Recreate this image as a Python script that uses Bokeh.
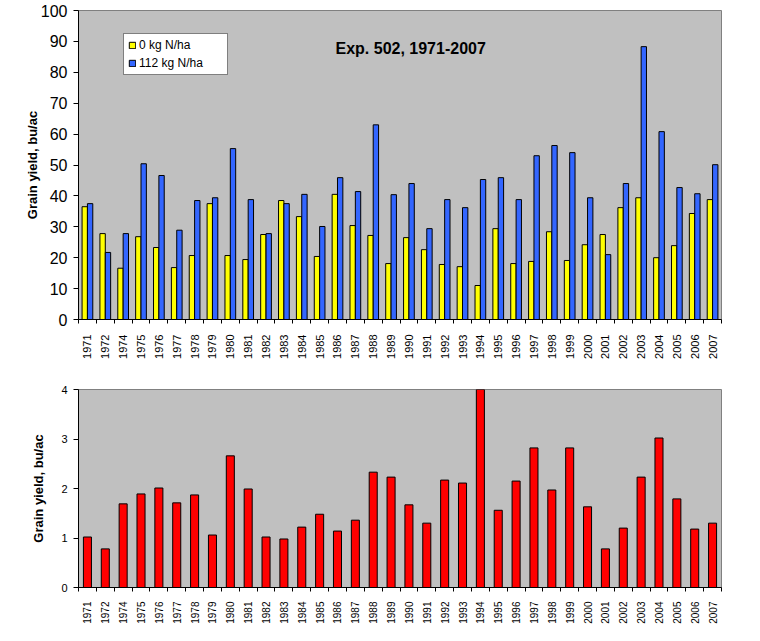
import math

from bokeh.embed import file_html
from bokeh.layouts import column
from bokeh.models import (ColumnDataSource, FixedTicker, Label, Legend,
                          LegendItem, Range1d)
from bokeh.plotting import figure
from bokeh.resources import INLINE
from bokeh.transform import dodge

# Exp. 502 winter wheat grain yields (bu/ac), no N vs 112 kg N/ha
years = ["1971", "1972", "1974", "1975", "1976", "1977", "1978", "1979",
         "1980", "1981", "1982", "1983", "1984", "1985", "1986", "1987",
         "1988", "1989", "1990", "1991", "1992", "1993", "1994", "1995",
         "1996", "1997", "1998", "1999", "2000", "2001", "2002", "2003",
         "2004", "2005", "2006", "2007"]

yield_0n = [36.5, 27.8, 16.6, 26.8, 23.3, 16.8, 20.7, 37.5,
            20.7, 19.4, 27.5, 38.5, 33.3, 20.4, 40.5, 30.4,
            27.2, 18.1, 26.5, 22.6, 17.8, 17.1, 11.0, 29.4,
            18.1, 18.8, 28.4, 19.1, 24.2, 27.5, 36.2, 39.4,
            20.0, 23.9, 34.3, 38.8]

yield_112n = [37.5, 21.7, 27.8, 50.4, 46.6, 28.9, 38.5, 39.4,
              55.3, 38.8, 27.8, 37.5, 40.5, 30.1, 45.9, 41.4,
              63.0, 40.4, 44.0, 29.4, 38.8, 36.2, 45.3, 45.9,
              38.8, 53.0, 56.3, 54.0, 39.4, 21.0, 44.0, 88.3,
              60.8, 42.7, 40.7, 50.1]

# response to N (112 kg N/ha yield over check yield)
ratio = [1.02, 0.78, 1.69, 1.89, 2.01, 1.71, 1.87, 1.06,
         2.66, 1.99, 1.02, 0.98, 1.22, 1.48, 1.14, 1.36,
         2.33, 2.23, 1.67, 1.30, 2.17, 2.11, 4.12, 1.56,
         2.15, 2.82, 1.97, 2.82, 1.63, 0.78, 1.20, 2.23,
         3.02, 1.79, 1.18, 1.30]

series_labels = ["0 kg N/ha", "112 kg N/ha"]
top_ticks = list(range(0, 101, 10))
bottom_ticks = [0, 1, 2, 3, 4]

FONT = "Liberation Sans"
PLOT_BG = "#C0C0C0"
FRAME_LINE = "#808080"

n = len(years)
idx = list(range(n))
source = ColumnDataSource(dict(idx=idx, year=years, n0=yield_0n,
                               n112=yield_112n, ratio=ratio))


def style_axes(p, y_ticks, y_font, x_font, x_standoff, title_standoff):
    p.background_fill_color = PLOT_BG
    p.border_fill_color = "white"
    p.outline_line_color = FRAME_LINE
    p.outline_line_width = 1
    p.grid.visible = False

    xa = p.xaxis[0]
    xa.ticker = FixedTicker(ticks=idx, minor_ticks=[i - 0.5 for i in range(n + 1)])
    xa.major_label_overrides = {i: y for i, y in enumerate(years)}
    xa.major_tick_line_color = None
    xa.major_tick_out = 0
    xa.major_tick_in = 0
    xa.minor_tick_line_color = "black"
    xa.minor_tick_out = 4
    xa.minor_tick_in = 0
    xa.axis_line_color = "black"
    xa.major_label_orientation = math.pi / 2
    xa.major_label_text_font = FONT
    xa.major_label_text_font_size = x_font
    xa.major_label_text_color = "black"
    xa.major_label_standoff = x_standoff

    ya = p.yaxis[0]
    ya.ticker = FixedTicker(ticks=y_ticks)
    ya.minor_tick_line_color = None
    ya.major_tick_out = 5
    ya.major_tick_in = 0
    ya.major_tick_line_color = "black"
    ya.axis_line_color = "black"
    ya.major_label_text_font = FONT
    ya.major_label_text_font_size = y_font
    ya.major_label_text_color = "black"
    ya.major_label_standoff = 6
    ya.axis_label = "Grain yield, bu/ac"
    ya.axis_label_text_font = FONT
    ya.axis_label_text_font_style = "bold"
    ya.axis_label_text_font_size = "13px"
    ya.axis_label_text_color = "black"
    ya.axis_label_standoff = title_standoff


# --- yields by N rate ---
top = figure(width=760, height=370, output_backend="svg", toolbar_location=None,
             x_range=Range1d(-0.5, n - 0.5), y_range=Range1d(0, 100),
             min_border_left=76, min_border_right=39,
             min_border_top=10, min_border_bottom=51)
style_axes(top, top_ticks, "16px", "11px", 11, -2)

r0 = top.vbar(x=dodge("idx", -0.15), top="n0", width=0.3, source=source,
              fill_color="#FFFF00", line_color="black", line_width=1)
r112 = top.vbar(x=dodge("idx", 0.15), top="n112", width=0.3, source=source,
                fill_color="#3366FF", line_color="black", line_width=1)

legend = Legend(items=[LegendItem(label=series_labels[0], renderers=[r0]),
                       LegendItem(label=series_labels[1], renderers=[r112])],
                location=(45, 244))
legend.border_line_color = "black"
legend.border_line_width = 1
legend.background_fill_color = "white"
legend.background_fill_alpha = 1
legend.label_text_font = FONT
legend.label_text_font_size = "12px"
legend.label_text_color = "black"
legend.glyph_width = 8
legend.glyph_height = 8
legend.label_height = 14
legend.label_width = 84
legend.label_standoff = 3
legend.padding = 4
legend.spacing = 4
legend.margin = 0
top.add_layout(legend)

top.add_layout(Label(x=257, y=271, x_units="screen", y_units="screen",
                     text="Exp. 502, 1971-2007", text_font=FONT,
                     text_font_size="16px", text_font_style="bold",
                     text_color="black", text_baseline="alphabetic"))

# --- yield response to N ---
bottom = figure(width=760, height=271, output_backend="svg", toolbar_location=None,
                x_range=Range1d(-0.5, n - 0.5), y_range=Range1d(0, 4),
                min_border_left=78, min_border_right=26,
                min_border_top=19, min_border_bottom=54)
style_axes(bottom, bottom_ticks, "11px", "10px", 10, 12)

bottom.vbar(x="idx", top="ratio", width=0.45, source=source,
            fill_color="#FF0000", line_color="black", line_width=1)

layout = column(top, bottom, spacing=0)

with open("out.html", "w") as f:
    f.write(file_html(layout, INLINE))
